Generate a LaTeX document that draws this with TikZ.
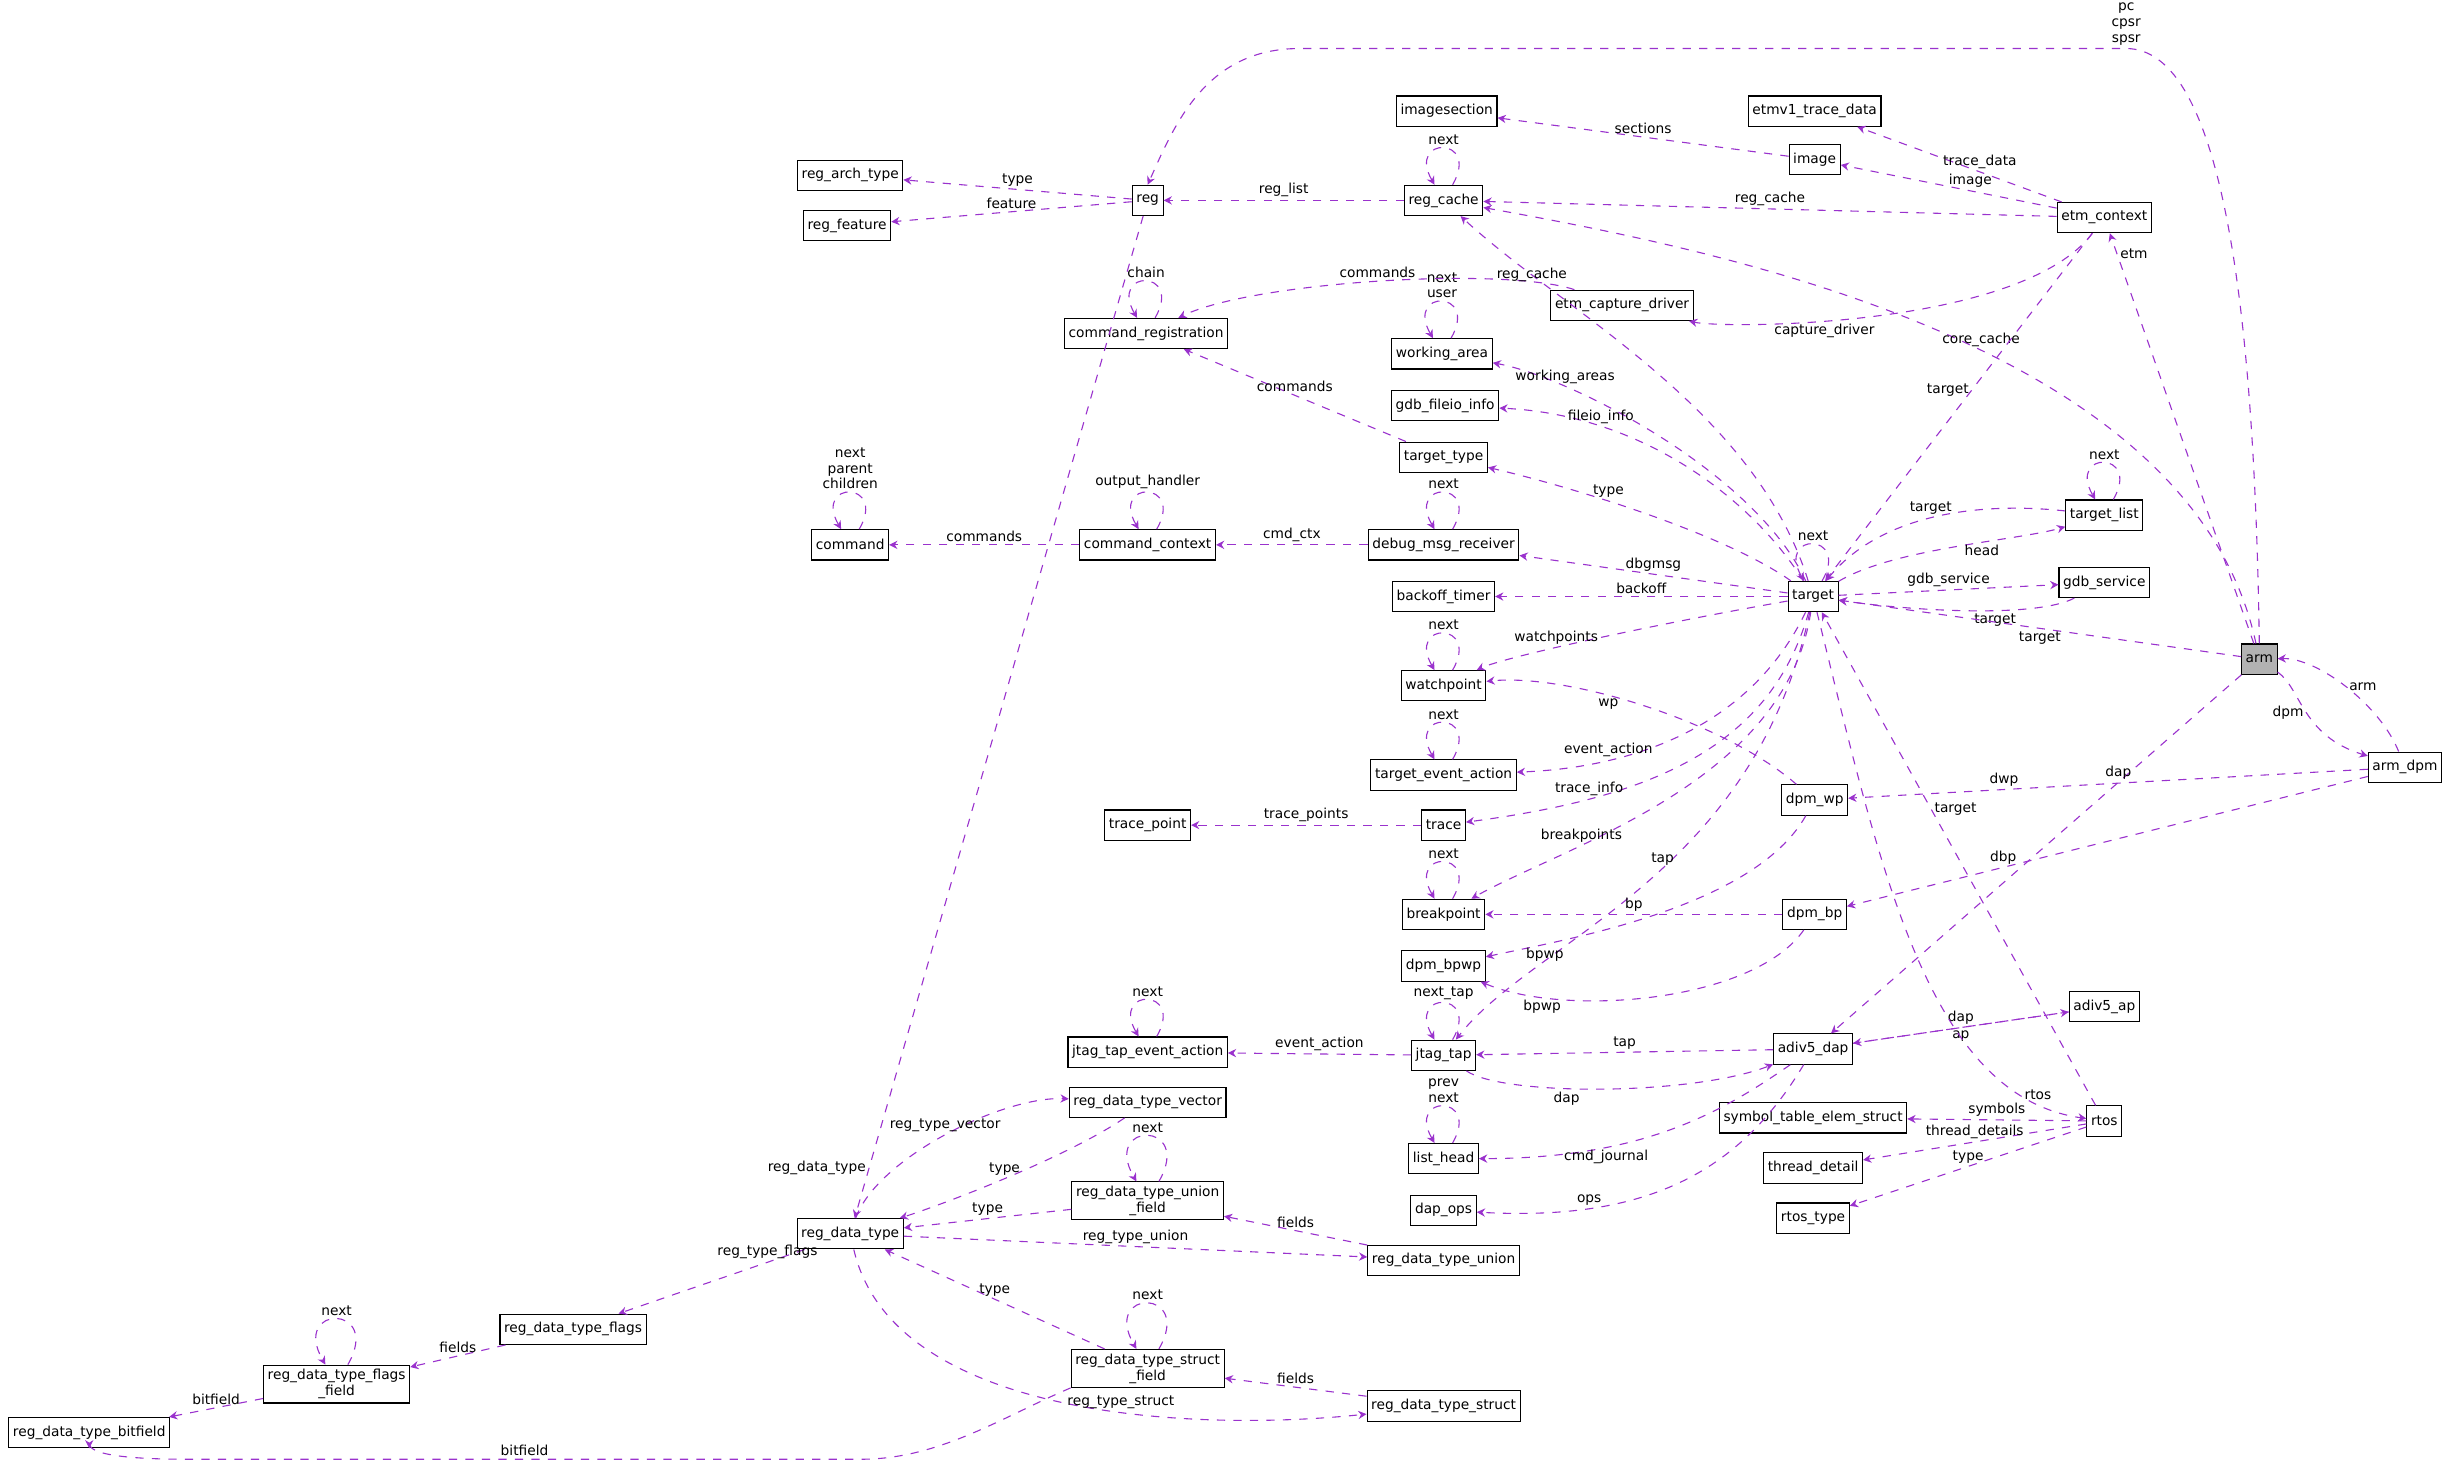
\documentclass[tikz,border=0pt]{standalone}
\usepackage{fontspec}
\setmainfont{DejaVu Sans}
\usetikzlibrary{arrows.meta}

\definecolor{edgecol}{HTML}{9A32CD}

\tikzset{
  cls/.style={draw,inner sep=1.5pt,minimum height=11pt,font=\fontsize{5}{5.8}\selectfont,align=center},
  lbl/.style={font=\fontsize{5}{5.8}\selectfont,inner sep=1pt,align=center},
  edge/.style={draw=edgecol,dashed,thin,-{Stealth[length=3pt,width=3pt]}},
  selfloop/.style={edge,loop,out=60,in=120,looseness=8,min distance=14}
}

\begin{document}
\begin{tikzpicture}[x=0.02cm,y=-0.02cm]
  \useasboundingbox (0,0) rectangle (1568,936);

  % classes
  \node[cls] (archtype) at (543,112) {reg\_arch\_type};
  \node[cls] (feature) at (541,144) {reg\_feature};
  \node[cls] (reg) at (733,128) {reg};
  \node[cls] (imgsec) at (924,71) {imagesection};
  \node[cls] (etmv1) at (1159,71) {etmv1\_trace\_data};
  \node[cls] (image) at (1159,102) {image};
  \node[cls] (regcache) at (922,128) {reg\_cache};
  \node[cls] (etmctx) at (1344,139) {etm\_context};
  \node[cls] (cmdreg) at (732,213) {command\_registration};
  \node[cls] (capdrv) at (1036,195) {etm\_capture\_driver};
  \node[cls] (warea) at (921,226) {working\_area};
  \node[cls] (fileio) at (923,259) {gdb\_fileio\_info};
  \node[cls] (ttype) at (922,292) {target\_type};
  \node[cls] (command) at (543,348) {command};
  \node[cls] (cmdctx) at (733,348) {command\_context};
  \node[cls] (dbgmsg) at (922,348) {debug\_msg\_receiver};
  \node[cls] (tlist) at (1344,329) {target\_list};
  \node[cls] (target) at (1158,381) {target};
  \node[cls] (backoff) at (922,381) {backoff\_timer};
  \node[cls] (gdbsrv) at (1344,372) {gdb\_service};
  \node[cls,fill=black!30] (arm) at (1443,421) {arm};
  \node[cls] (wpt) at (922,438) {watchpoint};
  \node[cls] (armdpm) at (1536,490) {arm\_dpm};
  \node[cls] (tevt) at (922,495) {target\_event\_action};
  \node[cls] (dpmwp) at (1159,511) {dpm\_wp};
  \node[cls] (tpoint) at (733,527) {trace\_point};
  \node[cls] (trace) at (922,527) {trace};
  \node[cls] (bpt) at (922,584) {breakpoint};
  \node[cls] (dpmbp) at (1159,584) {dpm\_bp};
  \node[cls] (bpwp) at (922,617) {dpm\_bpwp};
  \node[cls] (ap) at (1344,643) {adiv5\_ap};
  \node[cls] (tapevt) at (733,672) {jtag\_tap\_event\_action};
  \node[cls] (tap) at (922,674) {jtag\_tap};
  \node[cls] (dap) at (1158,670) {adiv5\_dap};
  \node[cls] (vector) at (733,704) {reg\_data\_type\_vector};
  \node[cls] (symbols) at (1158,714) {symbol\_table\_elem\_struct};
  \node[cls] (rtos) at (1344,716) {rtos};
  \node[cls] (lhead) at (922,740) {list\_head};
  \node[cls] (thread) at (1158,746) {thread\_detail};
  \node[cls] (ufield) at (733,767) {reg\_data\_type\_union\\\_field};
  \node[cls] (dapops) at (922,773) {dap\_ops};
  \node[cls] (rtype) at (1158,778) {rtos\_type};
  \node[cls] (rdt) at (543,788) {reg\_data\_type};
  \node[cls] (union) at (922,805) {reg\_data\_type\_union};
  \node[cls] (flags) at (366,849) {reg\_data\_type\_flags};
  \node[cls] (ffield) at (215,884) {reg\_data\_type\_flags\\\_field};
  \node[cls] (sfield) at (733,874) {reg\_data\_type\_struct\\\_field};
  \node[cls] (struct) at (922,898) {reg\_data\_type\_struct};
  \node[cls] (bitfield) at (57,915) {reg\_data\_type\_bitfield};

  % self references
  \path (regcache) edge[selfloop] node[lbl,above] {next} (regcache);
  \path (cmdreg) edge[selfloop] node[lbl,above] {chain} (cmdreg);
  \path (warea) edge[selfloop] node[lbl,above] {next\\user} (warea);
  \path (command) edge[selfloop] node[lbl,above] {next\\parent\\children} (command);
  \path (cmdctx) edge[selfloop] node[lbl,above] {output\_handler} (cmdctx);
  \path (dbgmsg) edge[selfloop] node[lbl,above] {next} (dbgmsg);
  \path (tlist) edge[selfloop] node[lbl,above] {next} (tlist);
  \path (target) edge[selfloop] node[lbl,above] {next} (target);
  \path (wpt) edge[selfloop] node[lbl,above] {next} (wpt);
  \path (tevt) edge[selfloop] node[lbl,above] {next} (tevt);
  \path (bpt) edge[selfloop] node[lbl,above] {next} (bpt);
  \path (tapevt) edge[selfloop] node[lbl,above] {next} (tapevt);
  \path (tap) edge[selfloop] node[lbl,above] {next\_tap} (tap);
  \path (lhead) edge[selfloop] node[lbl,above] {prev\\next} (lhead);
  \path (ufield) edge[selfloop] node[lbl,above] {next} (ufield);
  \path (ffield) edge[selfloop] node[lbl,above] {next} (ffield);
  \path (sfield) edge[selfloop] node[lbl,above] {next} (sfield);

  % members
  \draw[edge] (reg) -- node[lbl,above] {type} (archtype);
  \draw[edge] (reg) -- node[lbl,above] {feature} (feature);
  \coordinate (pctop) at (1358,31);
  \draw[edge] (arm.north) .. controls (1440,200) and (1420,31) .. (pctop) node[lbl,above] {pc\\cpsr\\spsr} -- (830,31) .. controls (770,31) and (750,80) .. (reg.north);
  \draw[edge] (image) -- node[lbl,above] {sections} (imgsec);
  \draw[edge] (etmctx) -- node[lbl,above,pos=0.4] {trace\_data} (etmv1);
  \draw[edge] (etmctx) -- node[lbl,above,pos=0.4] {image} (image);
  \draw[edge] (etmctx) -- node[lbl,above] {reg\_cache} (regcache);
  \draw[edge] (regcache) -- node[lbl,above] {reg\_list} (reg);
  \draw[edge] (arm) -- node[lbl,right,pos=0.95] {etm} (etmctx);
  \draw[edge] (arm) .. controls (1400,220) and (1100,160) .. node[lbl,above,pos=0.45] {core\_cache} (regcache);
  \draw[edge] (capdrv) .. controls (960,170) and (800,180) .. node[lbl,above] {commands} (cmdreg);
  \draw[edge] (etmctx) .. controls (1290,210) and (1100,210) .. node[lbl,below,pos=0.6] {capture\_driver} (capdrv);
  \draw[edge] (etmctx) -- node[lbl,left,pos=0.45] {target} (target);
  \draw[edge] (target) .. controls (1120,260) and (1000,200) .. node[lbl,pos=0.8] {reg\_cache} (regcache);
  \draw[edge] (target) .. controls (1120,300) and (1000,240) .. node[lbl,above,pos=0.75] {working\_areas} (warea);
  \draw[edge] (target) .. controls (1120,320) and (1050,265) .. node[lbl,above,pos=0.75] {fileio\_info} (fileio);
  \draw[edge] (target) .. controls (1100,340) and (1000,310) .. node[lbl,above,pos=0.6] {type} (ttype);
  \draw[edge] (ttype) -- node[lbl,above] {commands} (cmdreg);
  \draw[edge] (reg) -- node[lbl,left,pos=0.95] {reg\_data\_type} (rdt);
  \draw[edge] (cmdctx) -- node[lbl,above] {commands} (command);
  \draw[edge] (dbgmsg) -- node[lbl,above] {cmd\_ctx} (cmdctx);
  \draw[edge] (target) -- node[lbl,above] {dbgmsg} (dbgmsg);
  \draw[edge] (tlist) .. controls (1260,320) and (1200,330) .. node[lbl,above] {target} (target);
  \draw[edge] (target) .. controls (1210,350) and (1290,345) .. node[lbl,below,pos=0.6] {head} (tlist);
  \draw[edge] (target) -- node[lbl,above] {backoff} (backoff);
  \draw[edge] (target) -- node[lbl,above] {gdb\_service} (gdbsrv);
  \draw[edge] (gdbsrv) .. controls (1300,395) and (1220,390) .. node[lbl,below,pos=0.4] {target} (target);
  \draw[edge] (arm) -- node[lbl,below] {target} (target);
  \draw[edge] (target) .. controls (1050,400) and (960,420) .. node[lbl,above,pos=0.6] {watchpoints} (wpt);
  \draw[edge] (dpmwp) .. controls (1100,460) and (1000,430) .. node[lbl,below,pos=0.6] {wp} (wpt);
  \draw[edge] (target) .. controls (1120,460) and (1050,490) .. node[lbl,above,pos=0.75] {event\_action} (tevt);
  \draw[edge] (target) .. controls (1130,480) and (1050,510) .. node[lbl,above,pos=0.75] {trace\_info} (trace);
  \draw[edge] (trace) -- node[lbl,above] {trace\_points} (tpoint);
  \draw[edge] (target) .. controls (1140,500) and (1000,540) .. node[lbl,above,pos=0.7] {breakpoints} (bpt);
  \draw[edge] (target) .. controls (1120,560) and (980,600) .. node[lbl,above,pos=0.45] {tap} (tap);
  \draw[edge] (arm) .. controls (1470,440) and (1470,470) .. node[lbl,left] {dpm} (armdpm);
  \draw[edge] (armdpm) .. controls (1520,450) and (1480,420) .. node[lbl,right] {arm} (arm);
  \draw[edge] (armdpm) -- node[lbl,above,pos=0.7] {dwp} (dpmwp);
  \draw[edge] (armdpm) -- node[lbl,above,pos=0.7] {dbp} (dpmbp);
  \draw[edge] (arm) -- node[lbl,above,pos=0.3] {dap} (dap);
  \draw[edge] (dpmbp) -- node[lbl,above] {bp} (bpt);
  \draw[edge] (dpmwp) .. controls (1120,580) and (1000,600) .. node[lbl,below,pos=0.8] {bpwp} (bpwp);
  \draw[edge] (dpmbp) .. controls (1120,640) and (1000,650) .. node[lbl,below,pos=0.8] {bpwp} (bpwp);
  \draw[edge] (ap) -- node[lbl,above] {dap} (dap);
  \draw[edge] (dap) -- node[lbl,below] {ap} (ap);
  \draw[edge] (dap) -- node[lbl,above] {tap} (tap);
  \draw[edge] (tap) .. controls (960,700) and (1080,700) .. node[lbl,below,pos=0.4] {dap} (dap);
  \draw[edge] (tap) -- node[lbl,above] {event\_action} (tapevt);
  \draw[edge] (dap) .. controls (1100,710) and (1050,740) .. node[lbl,below,pos=0.7] {cmd\_journal} (lhead);
  \draw[edge] (dap) .. controls (1110,750) and (1050,780) .. node[lbl,above,pos=0.75] {ops} (dapops);
  \draw[edge] (rtos) -- node[lbl,right,pos=0.6] {target} (target);
  \draw[edge] (target) .. controls (1200,550) and (1230,700) .. node[lbl,right,pos=0.85] {rtos} (rtos);
  \draw[edge] (rtos) -- node[lbl,above] {symbols} (symbols);
  \draw[edge] (rtos) -- node[lbl,above] {thread\_details} (thread);
  \draw[edge] (rtos) -- node[lbl,above] {type} (rtype);
  \draw[edge] (vector) .. controls (680,740) and (600,770) .. node[lbl,above] {type} (rdt);
  \draw[edge] (rdt) .. controls (560,740) and (640,700) .. node[lbl,above] {reg\_type\_vector} (vector);
  \draw[edge] (ufield) -- node[lbl,above] {type} (rdt);
  \draw[edge] (rdt) -- node[lbl,above] {reg\_type\_union} (union);
  \draw[edge] (union) -- node[lbl,above] {fields} (ufield);
  \draw[edge] (rdt) -- node[lbl,above,pos=0.2] {reg\_type\_flags} (flags);
  \draw[edge] (flags) -- node[lbl,above] {fields} (ffield);
  \draw[edge] (ffield) -- node[lbl,above] {bitfield} (bitfield);
  \draw[edge] (sfield.south west) .. controls (640,905) and (600,932) .. (550,932) -- node[lbl,above] {bitfield} (120,932) .. controls (60,932) and (57,925) .. (bitfield);
  \draw[edge] (sfield) -- node[lbl,above] {type} (rdt);
  \draw[edge] (rdt) .. controls (570,905) and (760,915) .. node[lbl,above,pos=0.6] {reg\_type\_struct} (struct);
  \draw[edge] (struct) -- node[lbl,above] {fields} (sfield);
\end{tikzpicture}
\end{document}
